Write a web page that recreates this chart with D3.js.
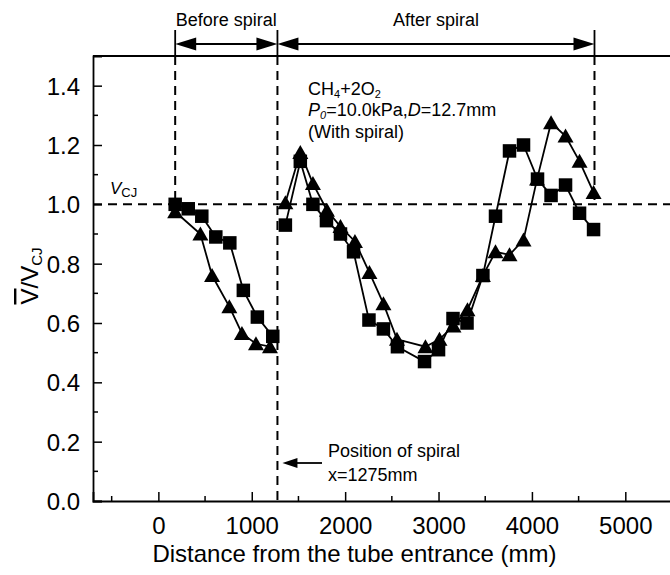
<!DOCTYPE html>
<html>
<head>
<meta charset="utf-8">
<script src="https://cdn.jsdelivr.net/npm/d3@7"></script>
<style>
  body { margin: 0; background: #fff; }
  text { font-family: "Liberation Sans", Arial, sans-serif; fill: #000; }
</style>
</head>
<body>
<div id="chart"></div>
<script>
// Data (distance in mm, V/Vcj)
var sqBeforeX = [180, 320, 465, 615, 765, 910, 1060, 1225];
var sqBeforeY = [1.00, 0.985, 0.96, 0.89, 0.87, 0.71, 0.62, 0.555];
var triBeforeX = [180, 450, 575, 760, 895, 1045, 1195];
var triBeforeY = [0.975, 0.90, 0.76, 0.655, 0.565, 0.53, 0.52];

var sqAfterX = [1360, 1520, 1655, 1800, 1950, 2090, 2255, 2410, 2560, 2850, 3000, 3155, 3305, 3475, 3610, 3760, 3910, 4060, 4205, 4360, 4510, 4660];
var sqAfterY = [0.93, 1.145, 1.00, 0.945, 0.90, 0.84, 0.61, 0.58, 0.52, 0.47, 0.51, 0.615, 0.60, 0.76, 0.96, 1.18, 1.20, 1.085, 1.03, 1.065, 0.97, 0.915];
var triAfterX = [1360, 1520, 1655, 1805, 1950, 2105, 2260, 2410, 2555, 2860, 3010, 3160, 3310, 3475, 3610, 3760, 3910, 4055, 4205, 4360, 4510, 4660];
var triAfterY = [1.005, 1.175, 1.07, 0.98, 0.925, 0.875, 0.77, 0.665, 0.545, 0.52, 0.545, 0.59, 0.645, 0.76, 0.84, 0.83, 0.88, 1.085, 1.275, 1.23, 1.145, 1.04];

var xTicks = [0, 1000, 2000, 3000, 4000, 5000];
var yTicks = [0.0, 0.2, 0.4, 0.6, 0.8, 1.0, 1.2, 1.4];

var spiralX = 1275;
var startX = 180;
var endX = 4670;

var svgWidth = 670;
var svgHeight = 575;
var margin = { top: 56, left: 93, bottom: 74 };

var svg = d3.select("#chart")
    .append("svg")
    .attr("width", svgWidth)
    .attr("height", svgHeight);

// scales
var x = d3.scaleLinear()
    .domain([-700, 5500])
    .range([margin.left, 672]);
var y = d3.scaleLinear()
    .domain([0, 1.5])
    .range([svgHeight - margin.bottom, margin.top]);

function zip(xs, ys) {
    return xs.map(function(d, i) { return { x: d, y: ys[i] }; });
}

// axes, ticks inward
var xAxis = d3.axisBottom(x).tickValues(xTicks).tickSize(-9).tickPadding(16).tickFormat(d3.format("d"));
var yAxis = d3.axisLeft(y).tickValues(yTicks).tickSize(-9).tickPadding(13).tickFormat(d3.format(".1f"));

var gx = svg.append("g")
    .attr("transform", "translate(0," + y(0) + ")")
    .call(xAxis);
var gy = svg.append("g")
    .attr("transform", "translate(" + x(-700) + ",0)")
    .call(yAxis);

[gx, gy].forEach(function(g) {
    g.select(".domain").attr("stroke", "#000").attr("stroke-width", 1.8);
    g.selectAll(".tick line").attr("stroke", "#000").attr("stroke-width", 1.5);
    g.selectAll(".tick text").style("font-size", "24px").attr("fill", "#000")
        .style("font-family", "Liberation Sans, Arial, sans-serif");
});
gy.selectAll(".tick text").attr("dy", "0.35em");

// minor ticks
var xMinor = d3.range(-500, 5500, 1000);
svg.append("g").selectAll("line")
    .data(xMinor).enter().append("line")
    .attr("x1", d => x(d)).attr("x2", d => x(d))
    .attr("y1", y(0)).attr("y2", y(0) - 5)
    .attr("stroke", "#000").attr("stroke-width", 1.5);
var yMinor = d3.range(0.1, 1.5, 0.2);
svg.append("g").selectAll("line")
    .data(yMinor).enter().append("line")
    .attr("x1", x(-700)).attr("x2", x(-700) + 5)
    .attr("y1", d => y(d)).attr("y2", d => y(d))
    .attr("stroke", "#000").attr("stroke-width", 1.5);

// top border
svg.append("line")
    .attr("x1", x(-700)).attr("x2", svgWidth)
    .attr("y1", y(1.5)).attr("y2", y(1.5))
    .attr("stroke", "#000").attr("stroke-width", 1.8);

// dashed reference lines
var dash = "9,6";
svg.append("line")
    .attr("x1", x(-700)).attr("x2", svgWidth)
    .attr("y1", y(1)).attr("y2", y(1))
    .attr("stroke", "#000").attr("stroke-width", 2).attr("stroke-dasharray", dash);
svg.append("line")
    .attr("x1", x(spiralX)).attr("x2", x(spiralX))
    .attr("y1", y(1.5)).attr("y2", y(0))
    .attr("stroke", "#000").attr("stroke-width", 2).attr("stroke-dasharray", dash);
[startX, endX].forEach(function(v) {
    svg.append("line")
        .attr("x1", x(v)).attr("x2", x(v))
        .attr("y1", y(1.5)).attr("y2", y(1))
        .attr("stroke", "#000").attr("stroke-width", 2).attr("stroke-dasharray", dash);
});

// top bars and arrows
var arrowY = 44;
[startX, spiralX, endX].forEach(function(v) {
    svg.append("line")
        .attr("x1", x(v)).attr("x2", x(v))
        .attr("y1", 30).attr("y2", y(1.5))
        .attr("stroke", "#000").attr("stroke-width", 1.8);
});
function arrowHead(tipX, tipY, dir, len, half) {
    svg.append("path")
        .attr("d", "M" + tipX + "," + tipY + "L" + (tipX + dir * len) + "," + (tipY - half) +
            "L" + (tipX + dir * len) + "," + (tipY + half) + "Z")
        .attr("fill", "#000");
}
function doubleArrow(a, b) {
    svg.append("line")
        .attr("x1", x(a) + 10).attr("x2", x(b) - 10)
        .attr("y1", arrowY).attr("y2", arrowY)
        .attr("stroke", "#000").attr("stroke-width", 1.8);
    arrowHead(x(a), arrowY, 1, 21, 6.5);
    arrowHead(x(b), arrowY, -1, 21, 6.5);
}
doubleArrow(startX, spiralX);
doubleArrow(spiralX, endX);

svg.append("text").attr("x", (x(startX) + x(spiralX)) / 2).attr("y", 26)
    .attr("text-anchor", "middle").style("font-size", "18px").text("Before spiral");
svg.append("text").attr("x", (x(spiralX) + x(endX)) / 2).attr("y", 26)
    .attr("text-anchor", "middle").style("font-size", "18px").text("After spiral");

// lines and markers
var line = d3.line().x(d => x(d.x)).y(d => y(d.y));
var series = [
    { pts: zip(sqBeforeX, sqBeforeY), shape: "sq" },
    { pts: zip(triBeforeX, triBeforeY), shape: "tri" },
    { pts: zip(sqAfterX, sqAfterY), shape: "sq" },
    { pts: zip(triAfterX, triAfterY), shape: "tri" }
];
series.forEach(function(s) {
    svg.append("path")
        .datum(s.pts)
        .attr("d", line)
        .attr("fill", "none")
        .attr("stroke", "#000")
        .attr("stroke-width", 1.8);
});
series.forEach(function(s) {
    var g = svg.append("g");
    if (s.shape === "sq") {
        g.selectAll("rect").data(s.pts).enter().append("rect")
            .attr("x", d => x(d.x) - 6.75).attr("y", d => y(d.y) - 6.75)
            .attr("width", 13.5).attr("height", 13.5)
            .attr("fill", "#000");
    } else {
        g.selectAll("path").data(s.pts).enter().append("path")
            .attr("d", function(d) {
                var cx = x(d.x), cy = y(d.y);
                return "M" + cx + "," + (cy - 7.5) + "L" + (cx + 8) + "," + (cy + 6.5) +
                    "L" + (cx - 8) + "," + (cy + 6.5) + "Z";
            })
            .attr("fill", "#000");
    }
});

// Vcj label
var vcj = svg.append("text").attr("x", 110).attr("y", 194).style("font-size", "17px");
vcj.append("tspan").style("font-style", "italic").text("V");
vcj.append("tspan").attr("dy", 3).style("font-size", "13px").text("CJ");

// condition block
var c1 = svg.append("text").attr("x", 308).attr("y", 95).style("font-size", "18px");
c1.append("tspan").text("CH");
c1.append("tspan").attr("dy", 3).style("font-size", "11px").text("4");
c1.append("tspan").attr("dy", -3).text("+2O");
c1.append("tspan").attr("dy", 3).style("font-size", "11px").text("2");

var c2 = svg.append("text").attr("x", 308).attr("y", 116).style("font-size", "18px");
c2.append("tspan").style("font-style", "italic").text("P");
c2.append("tspan").attr("dy", 3).style("font-size", "11px").style("font-style", "italic").text("0");
c2.append("tspan").attr("dy", -3).text("=10.0kPa,");
c2.append("tspan").style("font-style", "italic").text("D");
c2.append("tspan").text("=12.7mm");

svg.append("text").attr("x", 308).attr("y", 138).style("font-size", "18px").text("(With spiral)");

// position of spiral note
svg.append("line")
    .attr("x1", x(spiralX) + 18).attr("x2", 322)
    .attr("y1", 463).attr("y2", 463)
    .attr("stroke", "#000").attr("stroke-width", 1.8);
arrowHead(x(spiralX) + 5, 463, 1, 15, 5);
svg.append("text").attr("x", 328).attr("y", 457).style("font-size", "18px").text("Position of spiral");
svg.append("text").attr("x", 328).attr("y", 481).style("font-size", "18px").text("x=1275mm");

// axis titles
svg.append("text")
    .attr("x", (x(-700) + 672) / 2 - 28).attr("y", 562)
    .attr("text-anchor", "middle").style("font-size", "24px")
    .text("Distance from the tube entrance (mm)");

var yl = svg.append("text")
    .attr("transform", "translate(38,276) rotate(-90)")
    .attr("text-anchor", "middle").style("font-size", "24px");
yl.append("tspan").style("text-decoration", "overline").text("V");
yl.append("tspan").text("/V");
yl.append("tspan").attr("dy", 4).style("font-size", "15px").text("CJ");
</script>
</body>
</html>
